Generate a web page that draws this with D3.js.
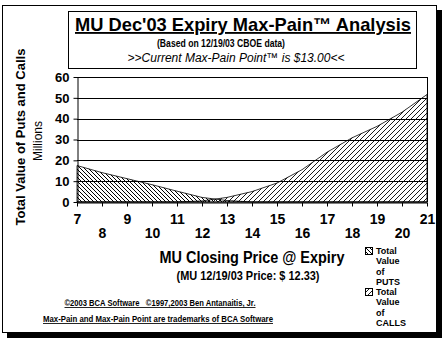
<!DOCTYPE html>
<html>
<head>
<meta charset="utf-8">
<script src="https://cdnjs.cloudflare.com/ajax/libs/d3/7.8.5/d3.min.js"></script>
<style>
  body { margin: 0; background: #fff; }
  svg text { font-family: "Liberation Sans", Arial, sans-serif; fill: #000; }
</style>
</head>
<body>
<script>
// strike prices on the x axis
var prices = [7, 8, 9, 10, 11, 12, 13, 14, 15, 16, 17, 18, 19, 20, 21];
// total value of puts / calls, millions
var putsValues  = [17.5, 14.1, 11.2, 8.3, 5.2, 2.2, 0.7, 0, 0, 0, 0, 0, 0, 0, 0];
var callsValues = [0, 0, 0, 0, 0, 0.5, 2.2, 5.0, 9.1, 15.5, 23.9, 30.8, 36.3, 43.1, 51.6];
var yTicks = [0, 10, 20, 30, 40, 50, 60];
var legendLabels = [["Total", "Value", "of", "PUTS"], ["Total", "Value", "of", "CALLS"]];

var W = 442, H = 342;
var plot = {left: 77, right: 427, top: 77, bottom: 202};

var svg = d3.select("body").append("svg")
    .attr("width", W)
    .attr("height", H);

// hatch patterns
var defs = svg.append("defs");
defs.append("pattern")
    .attr("id", "putsHatch")
    .attr("patternUnits", "userSpaceOnUse")
    .attr("width", 4).attr("height", 4)
  .append("path")
    .attr("d", "M-1,3 l2,2 M0,0 l4,4 M3,-1 l2,2")
    .attr("stroke", "#000").attr("stroke-width", 1);
defs.append("pattern")
    .attr("id", "callsHatch")
    .attr("patternUnits", "userSpaceOnUse")
    .attr("width", 5).attr("height", 5)
  .append("path")
    .attr("d", "M-1,1 l2,-2 M0,5 l5,-5 M4,6 l2,-2")
    .attr("stroke", "#000").attr("stroke-width", 0.9);

// frame with drop shadow
svg.append("rect")
    .attr("x", 7).attr("y", 10)
    .attr("width", 435).attr("height", 328)
    .attr("fill", "#000");
svg.append("rect")
    .attr("x", 2.5).attr("y", 5.5)
    .attr("width", 434).attr("height", 327)
    .attr("fill", "#fff")
    .attr("stroke", "#000");

// title box
svg.append("rect")
    .attr("x", 68.5).attr("y", 11.5)
    .attr("width", 348).attr("height", 57)
    .attr("fill", "#fff")
    .attr("stroke", "#000");

// helper: text squeezed to a measured width (fonts in the original are narrower)
function label(str, cx, cy, size, len) {
  var t = svg.append("text")
      .text(str)
      .attr("x", cx).attr("y", cy)
      .attr("text-anchor", "middle")
      .style("font-size", size + "px")
      .style("font-weight", "bold");
  if (len) t.attr("textLength", len).attr("lengthAdjust", "spacingAndGlyphs");
  return t;
}

label("MU Dec'03 Expiry Max-Pain\u2122 Analysis", 243, 31, 18.5, 336)
    .style("text-decoration", "underline");
label("(Based on 12/19/03 CBOE data)", 221, 47, 10, 128);
label(">>Current Max-Pain Point\u2122 is $13.00<<", 236, 62, 12.5, 217)
    .style("font-weight", "normal")
    .style("font-style", "italic");

// scales
var x = d3.scaleLinear().domain([7, 21]).range([plot.left, plot.right]);
var y = d3.scaleLinear().domain([0, 60]).range([plot.bottom, plot.top]);

var g = svg.append("g");

// gridlines
g.selectAll(".grid")
    .data(yTicks.filter(function(d) { return d > 0; }))
  .enter().append("line")
    .attr("x1", plot.left).attr("x2", plot.right)
    .attr("y1", function(d) { return Math.round(y(d)) + 0.5; })
    .attr("y2", function(d) { return Math.round(y(d)) + 0.5; })
    .attr("stroke", "#000");
// plot area right border
g.append("line")
    .attr("x1", plot.right + 0.5).attr("x2", plot.right + 0.5)
    .attr("y1", plot.top).attr("y2", plot.bottom)
    .attr("stroke", "#000");

// areas
var area = d3.area()
    .x(function(d, i) { return x(prices[i]); })
    .y0(y(0))
    .y1(function(d) { return y(d); });

g.append("path")
    .datum(putsValues)
    .attr("d", area)
    .attr("fill", "url(#putsHatch)")
    .attr("stroke", "#000")
    .attr("stroke-width", 0.8);
g.append("path")
    .datum(callsValues)
    .attr("d", area)
    .attr("fill", "url(#callsHatch)")
    .attr("stroke", "#000")
    .attr("stroke-width", 0.8);

// y axis
var yAxis = g.append("g")
    .attr("transform", "translate(" + (plot.left + 0.5) + ",0)")
    .call(d3.axisLeft(y).tickValues(yTicks).tickSize(4).tickSizeOuter(0).tickPadding(4));
yAxis.select(".domain").attr("stroke", "#000");
yAxis.selectAll("text")
    .style("font-size", "13px")
    .style("font-weight", "bold")
    .attr("font-family", null);

// x axis
var xAxis = g.append("g")
    .attr("transform", "translate(0," + (plot.bottom + 0.5) + ")")
    .call(d3.axisBottom(x).tickValues(prices).tickSize(4).tickSizeOuter(0).tickFormat(d3.format("d")));
xAxis.selectAll("text")
    .style("font-size", "14px")
    .style("font-weight", "bold")
    .attr("font-family", null)
    .attr("y", function(d) { return d % 2 ? 12 : 26; });

// axis titles
svg.append("text")
    .text("Total Value of Puts and Calls")
    .attr("transform", "translate(25,137) rotate(-90)")
    .attr("text-anchor", "middle")
    .style("font-size", "13px")
    .style("font-weight", "bold");
svg.append("text")
    .text("Millions")
    .attr("transform", "translate(42,141) rotate(-90)")
    .attr("text-anchor", "middle")
    .style("font-size", "12px");

label("MU Closing Price @ Expiry", 252, 263, 16, 185);
label("(MU 12/19/03 Price: $ 12.33)", 248, 280, 12, 143);

// footer
label("\u00a92003 BCA Software   \u00a91997,2003 Ben Antanaitis, Jr.", 160, 306, 8.5, 191)
    .style("white-space", "pre")
    .style("text-decoration", "underline");
label("Max-Pain and Max-Pain Point are trademarks of BCA Software", 158, 322, 8.5, 230)
    .style("text-decoration", "underline");

// legend
var legend = svg.selectAll(".legend")
    .data(legendLabels)
  .enter().append("g")
    .attr("transform", function(d, i) { return "translate(365," + (247 + i * 41) + ")"; });
legend.append("rect")
    .attr("x", 0.5).attr("y", 0.5)
    .attr("width", 7).attr("height", 7)
    .attr("fill", function(d, i) { return i ? "url(#callsHatch)" : "url(#putsHatch)"; })
    .attr("stroke", "#000");
legend.selectAll("text")
    .data(function(d) { return d; })
  .enter().append("text")
    .text(function(d) { return d; })
    .attr("x", 11)
    .attr("y", function(d, i) { return 7 + i * 10.3; })
    .style("font-size", "9px")
    .style("font-weight", "bold");
</script>
</body>
</html>
